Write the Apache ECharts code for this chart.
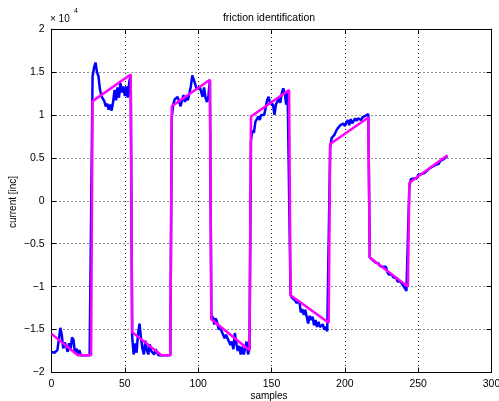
<!DOCTYPE html>
<html>
<head>
<meta charset="utf-8">
<script src="https://cdn.jsdelivr.net/npm/echarts@6/dist/echarts.min.js"></script>
<style>
  html, body { margin: 0; padding: 0; background: #fff; }
  #chart { width: 499px; height: 401px; }
</style>
</head>
<body>
<div id="chart"></div>
<script>
// Motor current in units of 10^4 inc
const SCALE_EXPONENT = 4;

// Measured current, one value per sample (0..270)
const measured = [
  // samples 0..27
  -1.76, -1.78, -1.77, -1.79, -1.74, -1.62, -1.48, -1.56, -1.72, -1.65, -1.69, -1.76, -1.66, -1.74,
  -1.59, -1.62, -1.78, -1.72, -1.79, -1.74, -1.80, -1.78, -1.80, -1.80, -1.80, -1.80, -1.80, -1.80,
  // samples 28..54
  1.45, 1.55, 1.61, 1.50, 1.45, 1.30, 1.22, 1.19, 1.16, 1.10, 1.13, 1.06, 1.12, 1.05,
  1.15, 1.29, 1.17, 1.32, 1.20, 1.37, 1.26, 1.33, 1.22, 1.33, 1.20, 1.38, 1.47,
  // samples 55..81
  -1.58, -1.79, -1.66, -1.77, -1.55, -1.43, -1.60, -1.72, -1.79, -1.63, -1.74, -1.79, -1.67, -1.75,
  -1.74, -1.79, -1.73, -1.77, -1.80, -1.78, -1.80, -1.80, -1.80, -1.80, -1.80, -1.80, -1.80,
  // samples 82..108
  0.97, 1.12, 1.18, 1.17, 1.21, 1.19, 1.10, 1.17, 1.23, 1.15, 1.21, 1.17, 1.18, 1.33,
  1.46, 1.41, 1.39, 1.30, 1.29, 1.33, 1.27, 1.21, 1.32, 1.20, 1.15, 1.22, 1.40,
  // samples 109..135
  -1.38, -1.35, -1.44, -1.37, -1.42, -1.50, -1.47, -1.52, -1.50, -1.60, -1.56, -1.60, -1.58, -1.68,
  -1.64, -1.73, -1.54, -1.66, -1.75, -1.69, -1.79, -1.70, -1.79, -1.72, -1.64, -1.79, -1.72,
  // samples 136..162
  0.70, 0.82, 0.79, 0.92, 0.90, 0.98, 0.94, 1.00, 1.02, 1.00, 1.08, 1.17, 1.21, 1.14,
  1.15, 1.12, 1.00, 1.12, 1.14, 1.19, 1.14, 1.25, 1.31, 1.25, 1.12, 1.27, 1.29,
  // samples 163..189
  -1.10, -1.13, -1.12, -1.16, -1.19, -1.18, -1.17, -1.30, -1.26, -1.33, -1.27, -1.35, -1.43, -1.34,
  -1.39, -1.35, -1.45, -1.39, -1.47, -1.41, -1.47, -1.48, -1.44, -1.50, -1.47, -1.52, -1.50,
  // samples 190..216
  0.62, 0.73, 0.73, 0.77, 0.81, 0.84, 0.82, 0.88, 0.86, 0.90, 0.87, 0.89, 0.94, 0.88,
  0.95, 0.90, 0.92, 0.96, 0.93, 0.96, 0.94, 0.94, 0.97, 0.98, 0.99, 0.99, 1.01,
  // samples 217..243
  -0.66, -0.67, -0.69, -0.71, -0.72, -0.74, -0.73, -0.76, -0.75, -0.77, -0.79, -0.77, -0.83, -0.86,
  -0.87, -0.86, -0.89, -0.91, -0.90, -0.94, -0.93, -0.94, -0.97, -0.99, -1.02, -1.05, -1.04,
  // samples 244..270
  0.17, 0.25, 0.24, 0.26, 0.27, 0.26, 0.30, 0.28, 0.31, 0.33, 0.32, 0.34, 0.35, 0.37,
  0.38, 0.39, 0.40, 0.41, 0.42, 0.44, 0.43, 0.46, 0.48, 0.48, 0.50, 0.51, 0.52
];

// Identified friction model: breakpoints of the piecewise-linear curve
const modelSamples = [0, 18, 27, 28, 54, 55, 75, 81, 82, 108, 109, 135, 136, 162,
                      163, 189, 190, 216, 217, 243, 244, 270];
const modelCurrent = [-1.55, -1.80, -1.80, 1.16, 1.47, -1.53, -1.80, -1.80, 1.10, 1.41,
                      -1.38, -1.74, 0.98, 1.29, -1.10, -1.42, 0.66, 0.97, -0.66, -1.00, 0.21, 0.53];

const xTicks = [0, 50, 100, 150, 200, 250, 300];
const yTicks = [-2, -1.5, -1, -0.5, 0, 0.5, 1, 1.5, 2];

const titleText = 'friction identification';
const xLabel = 'samples';
const yLabel = 'current [inc]';

const FONT = '"Liberation Sans", Arial, Helvetica, sans-serif';

const measuredData = measured.map((v, i) => [i, v]);
const modelData = modelSamples.map((s, i) => [s, modelCurrent[i]]);

const fmtY = v => (v < 0 ? '\u2212' + String(-v) : String(v));

const gridLine = { show: true, lineStyle: { color: '#222', width: 1, type: [1, 3] } };
const frameLine = { show: true, onZero: false, lineStyle: { color: '#000', width: 1 } };
const innerTick = { show: true, inside: true, length: 5, lineStyle: { color: '#000', width: 1 } };

const chart = echarts.init(document.getElementById('chart'), null, { renderer: 'canvas' });

chart.setOption({
  backgroundColor: '#fff',
  animation: false,
  grid: { left: 51.5, right: 7.5, top: 29, bottom: 28.5, containLabel: false, outerBoundsMode: 'none' },
  xAxis: [
    {
      type: 'value', position: 'bottom',
      min: xTicks[0], max: xTicks[xTicks.length - 1], interval: 50,
      axisLine: frameLine, axisTick: innerTick, splitLine: gridLine,
      axisLabel: { fontFamily: FONT, fontSize: 10.5, color: '#000', margin: 6 }
    },
    {
      type: 'value', position: 'top',
      min: xTicks[0], max: xTicks[xTicks.length - 1], interval: 50,
      axisLine: frameLine, axisTick: innerTick, splitLine: { show: false },
      axisLabel: { show: false }
    }
  ],
  yAxis: [
    {
      type: 'value', position: 'left',
      min: yTicks[0], max: yTicks[yTicks.length - 1], interval: 0.5,
      axisLine: frameLine, axisTick: innerTick, splitLine: gridLine,
      axisLabel: { fontFamily: FONT, fontSize: 10.5, color: '#000', margin: 7, formatter: fmtY }
    },
    {
      type: 'value', position: 'right',
      min: yTicks[0], max: yTicks[yTicks.length - 1], interval: 0.5,
      axisLine: frameLine, axisTick: innerTick, splitLine: { show: false },
      axisLabel: { show: false }
    }
  ],
  graphic: [
    {
      type: 'text', x: 269, y: 18,
      style: { text: titleText, font: '10.5px ' + FONT, fill: '#000', align: 'center', verticalAlign: 'middle' }
    },
    {
      type: 'text', x: 269, y: 396,
      style: { text: xLabel, font: '10px ' + FONT, fill: '#000', align: 'center', verticalAlign: 'middle' }
    },
    {
      type: 'text', x: 13, y: 202, rotation: Math.PI / 2,
      style: { text: yLabel, font: '10px ' + FONT, fill: '#000', align: 'center', verticalAlign: 'middle' }
    },
    {
      type: 'text', left: 50, top: 14,
      style: { text: '\u00d7 10', font: '10px ' + FONT, fill: '#000' }
    },
    {
      type: 'text', left: 74, top: 8,
      style: { text: String(SCALE_EXPONENT), font: '7px ' + FONT, fill: '#000' }
    }
  ],
  series: [
    {
      name: 'measured', type: 'line', data: measuredData,
      xAxisIndex: 0, yAxisIndex: 0,
      showSymbol: false, symbol: 'none',
      lineStyle: { color: '#0000ff', width: 2.5 }, z: 2
    },
    {
      name: 'model', type: 'line', data: modelData,
      xAxisIndex: 0, yAxisIndex: 0,
      showSymbol: false, symbol: 'none',
      lineStyle: { color: '#ff00ff', width: 2.5 }, z: 3
    }
  ]
});
</script>
</body>
</html>
